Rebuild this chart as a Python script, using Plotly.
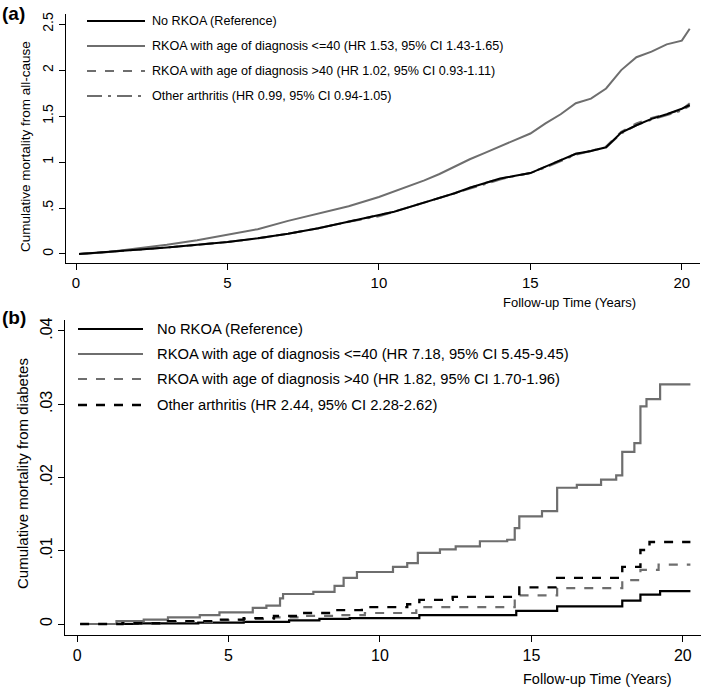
import plotly.graph_objects as go

W, H = 707, 692

# ---- panel (a): all-cause mortality ----
a_t = [0.1, 1, 2, 3, 4, 5, 6, 7, 8, 9, 10, 10.5, 11, 11.5, 12, 12.5, 13, 13.5, 14, 14.5, 15,
       15.5, 16, 16.5, 17, 17.5, 18, 18.5, 19, 19.5, 20, 20.26]
a_ref = [0, 0.02, 0.05, 0.07, 0.10, 0.13, 0.17, 0.22, 0.28, 0.35, 0.42, 0.46, 0.51, 0.56, 0.61, 0.66,
         0.72, 0.77, 0.82, 0.85, 0.88, 0.95, 1.02, 1.09, 1.12, 1.16, 1.32, 1.40, 1.47, 1.52, 1.58, 1.62]
a_le40 = [0, 0.02, 0.06, 0.10, 0.15, 0.21, 0.27, 0.36, 0.44, 0.52, 0.62, 0.68, 0.74, 0.80, 0.87, 0.95,
          1.03, 1.10, 1.17, 1.24, 1.31, 1.42, 1.52, 1.64, 1.69, 1.80, 2.00, 2.14, 2.20, 2.28, 2.32, 2.45]
a_gt40 = [0, 0.02, 0.05, 0.07, 0.10, 0.13, 0.17, 0.22, 0.28, 0.35, 0.42, 0.46, 0.51, 0.56, 0.61, 0.66,
          0.72, 0.77, 0.82, 0.85, 0.88, 0.95, 1.02, 1.09, 1.12, 1.17, 1.33, 1.42, 1.48, 1.52, 1.57, 1.64]
a_oth = [0, 0.02, 0.05, 0.07, 0.10, 0.13, 0.17, 0.22, 0.28, 0.35, 0.41, 0.46, 0.51, 0.56, 0.61, 0.66,
         0.71, 0.76, 0.81, 0.85, 0.88, 0.94, 1.01, 1.08, 1.12, 1.16, 1.31, 1.40, 1.46, 1.51, 1.56, 1.61]
a_labels = ["No RKOA (Reference)",
            "RKOA with age of diagnosis <=40 (HR 1.53, 95% CI 1.43-1.65)",
            "RKOA with age of diagnosis >40 (HR 1.02, 95% CI 0.93-1.11)",
            "Other arthritis (HR 0.99, 95% CI 0.94-1.05)"]

# ---- panel (b): diabetes mortality ----
b_ref_t = [0.1, 2, 4, 5.5, 7, 8, 9, 11.3, 14.5, 15.85, 18.0, 18.6, 19.25, 20.25]
b_ref = [0, 0.0001, 0.0002, 0.0003, 0.0005, 0.0007, 0.0008, 0.0012, 0.0018, 0.0024, 0.0032,
         0.0040, 0.0045, 0.0045]
b_le40_t = [0.3, 1.3, 2.2, 3.0, 4.05, 4.7, 5.8, 6.25, 6.7, 6.8, 7.8, 8.5, 8.8, 9.24, 10.43, 10.9,
            11.25, 11.98, 12.5, 13.3, 14.2, 14.45, 14.6, 15.35, 15.85, 16.5, 17.3, 17.8, 18.0, 18.4,
            18.6, 18.8, 19.25, 20.25]
b_le40 = [0, 0.0004, 0.0006, 0.0009, 0.0012, 0.0016, 0.0022, 0.0025, 0.0035, 0.0041, 0.0044, 0.0052,
          0.0063, 0.0071, 0.0078, 0.0083, 0.0097, 0.0102, 0.0106, 0.0113, 0.0115, 0.0131, 0.0147,
          0.0154, 0.0186, 0.0190, 0.0197, 0.0203, 0.0235, 0.0247, 0.0297, 0.0307, 0.0327, 0.0327]
b_gt40_t = [0.1, 1.5, 3, 4.5, 5.5, 6.5, 7.5, 8.5, 9.5, 11.2, 14.45, 14.6, 15.85, 18.0, 18.6, 19.2, 20.25]
b_gt40 = [0, 0.0001, 0.0003, 0.0005, 0.0007, 0.0009, 0.0011, 0.0012, 0.0015, 0.0023, 0.0034, 0.0039,
          0.0049, 0.0060, 0.0074, 0.0081, 0.0081]
b_oth_t = [0.1, 1.5, 3, 4.5, 5.5, 6.5, 7.5, 8.5, 9.4, 10.9, 11.3, 12.4, 14.6, 15.85, 18.0, 18.6, 18.9, 20.25]
b_oth = [0, 0.0001, 0.0004, 0.0006, 0.0008, 0.0011, 0.0015, 0.0019, 0.0023, 0.0027, 0.0033, 0.0037,
         0.0050, 0.0063, 0.0078, 0.0101, 0.0112, 0.0112]
b_labels = ["No RKOA (Reference)",
            "RKOA with age of diagnosis <=40 (HR 7.18, 95% CI 5.45-9.45)",
            "RKOA with age of diagnosis >40 (HR 1.82, 95% CI 1.70-1.96)",
            "Other arthritis (HR 2.44, 95% CI 2.28-2.62)"]

a_yticks = [0, 0.5, 1, 1.5, 2, 2.5]
a_yticktext = ["0", ".5", "1", "1.5", "2", "2.5"]
b_yticks = [0, 0.01, 0.02, 0.03, 0.04]
b_yticktext = ["0", ".01", ".02", ".03", ".04"]
xticks = [0, 5, 10, 15, 20]

BLACK = "#000000"
GRAY = "#6e6e6e"
FONT = "Liberation Sans, Arial, sans-serif"


def px(x):
    return x / W


def py(y):
    return 1 - y / H


fig = go.Figure()

# panel a curves (many tiny steps -> drawn as a fine line)
a_styles = [(a_ref, BLACK, "solid", 2), (a_le40, GRAY, "solid", 2),
            (a_gt40, GRAY, "dash", 2), (a_oth, GRAY, "longdashdot", 2)]
for vals, col, dash, w in [a_styles[1], a_styles[3], a_styles[2], a_styles[0]]:
    fig.add_trace(go.Scatter(x=a_t, y=vals, mode="lines",
                             line=dict(color=col, dash=dash, width=w),
                             xaxis="x", yaxis="y", showlegend=False))

# panel b curves
b_styles = [(b_ref_t, b_ref, BLACK, "solid", 2.2), (b_le40_t, b_le40, GRAY, "solid", 2.2),
            (b_gt40_t, b_gt40, GRAY, "dash", 2.2), (b_oth_t, b_oth, BLACK, "dash", 2.4)]
for t, vals, col, dash, w in b_styles:
    fig.add_trace(go.Scatter(x=t, y=vals, mode="lines", line_shape="hv",
                             line=dict(color=col, dash=dash, width=w),
                             xaxis="x2", yaxis="y2", showlegend=False))

axis_common = dict(showline=True, linecolor="black", linewidth=1, showgrid=False, zeroline=False,
                   ticks="outside", ticklen=6, tickcolor="black", tickwidth=1, automargin=False)

fig.update_layout(
    width=W, height=H,
    margin=dict(l=0, r=0, t=0, b=0),
    paper_bgcolor="white", plot_bgcolor="white",
    font=dict(family=FONT, color="black"),
    xaxis=dict(domain=[px(66), px(700)], range=[-0.33, 20.6], tickvals=xticks,
               tickfont=dict(size=15), anchor="y", **axis_common),
    yaxis=dict(domain=[py(263), py(14)], range=[-0.098, 2.61], tickvals=a_yticks,
               ticktext=a_yticktext, tickangle=-90, tickfont=dict(size=14), anchor="x",
               **axis_common),
    xaxis2=dict(domain=[px(65), px(701)], range=[-0.4, 20.6], tickvals=xticks,
                tickfont=dict(size=16), anchor="y2", **axis_common),
    yaxis2=dict(domain=[py(635), py(320)], range=[-0.0015, 0.0415], tickvals=b_yticks,
                ticktext=b_yticktext, tickangle=-90, tickfont=dict(size=16), anchor="x2",
                **axis_common),
)

# y-axis titles
fig.add_annotation(x=px(25), y=py(147), xref="paper", yref="paper", showarrow=False, textangle=-90,
                   text="Cumulative mortality from all-cause", font=dict(size=13.5),
                   xanchor="center", yanchor="middle")
fig.add_annotation(x=px(22), y=py(474), xref="paper", yref="paper", showarrow=False, textangle=-90,
                   text="Cumulative mortality from diabetes", font=dict(size=15),
                   xanchor="center", yanchor="middle")

# x-axis titles (Stata places them right of centre)
fig.add_annotation(x=px(569), y=py(302), xref="paper", yref="paper", showarrow=False,
                   text="Follow-up Time (Years)", font=dict(size=13), xanchor="center", yanchor="middle")
fig.add_annotation(x=px(597), y=py(679), xref="paper", yref="paper", showarrow=False,
                   text="Follow-up Time (Years)", font=dict(size=14.5), xanchor="center", yanchor="middle")

# panel letters
fig.add_annotation(x=0, y=py(14), xref="paper", yref="paper", showarrow=False,
                   text="<b>(a)</b>", font=dict(size=19), xanchor="left", yanchor="middle")
fig.add_annotation(x=0, y=py(317), xref="paper", yref="paper", showarrow=False,
                   text="<b>(b)</b>", font=dict(size=19), xanchor="left", yanchor="middle")

# hand-drawn legends (Stata style, long samples)
a_leg_y = [21, 46, 71, 96]
for (vals, col, dash, w), lab, yy in zip(a_styles, a_labels, a_leg_y):
    fig.add_shape(type="line", xref="paper", yref="paper", x0=px(87), x1=px(145), y0=py(yy), y1=py(yy),
                  line=dict(color=col, dash=dash, width=w))
    fig.add_annotation(x=px(150), y=py(yy), xref="paper", yref="paper", showarrow=False, text=lab,
                       font=dict(size=12.6), xanchor="left", yanchor="middle")

b_leg_y = [329, 354, 379, 405]
for (t, vals, col, dash, w), lab, yy in zip(b_styles, b_labels, b_leg_y):
    fig.add_shape(type="line", xref="paper", yref="paper", x0=px(78), x1=px(143), y0=py(yy), y1=py(yy),
                  line=dict(color=col, dash=dash, width=w))
    fig.add_annotation(x=px(155), y=py(yy), xref="paper", yref="paper", showarrow=False, text=lab,
                       font=dict(size=14.75), xanchor="left", yanchor="middle")

# the page's default 8px body margin would shift the whole figure
fig.write_html("out.html", config={"displayModeBar": False},
               post_script="document.body.style.margin='0';")
